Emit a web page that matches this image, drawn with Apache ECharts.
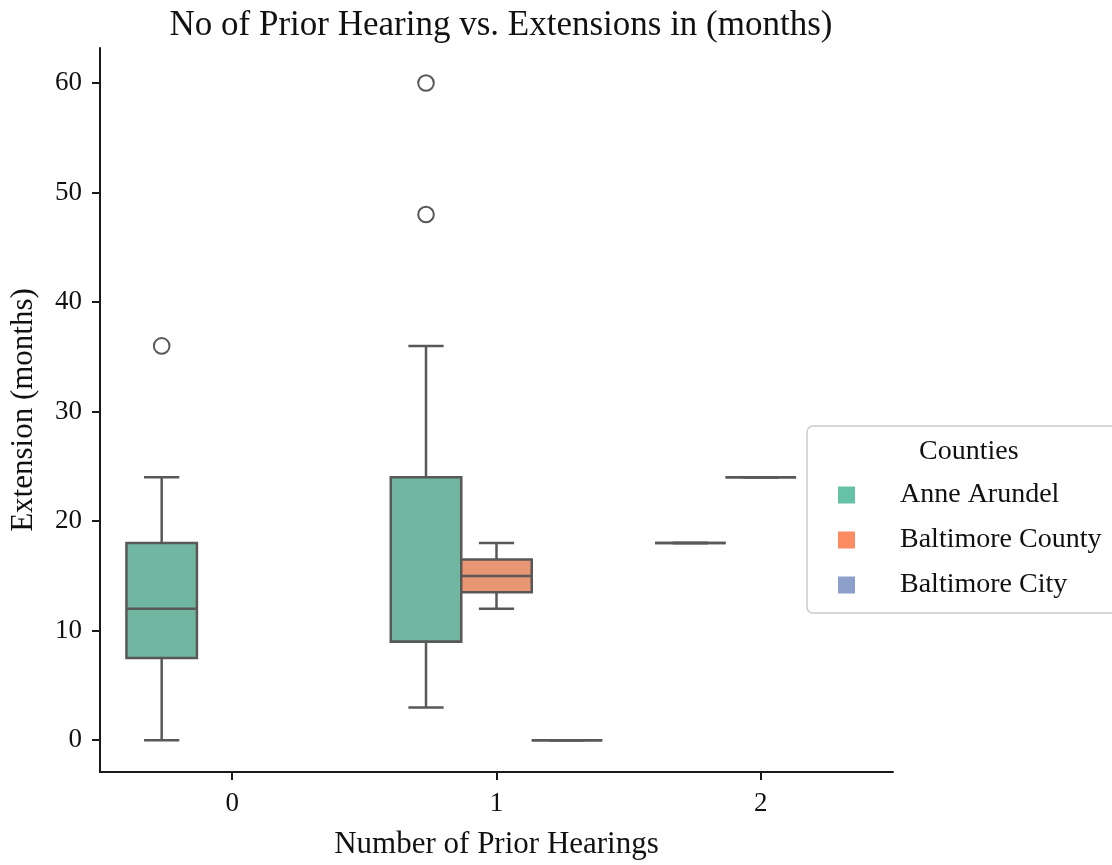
<!DOCTYPE html>
<html><head><meta charset="utf-8">
<script src="https://cdn.jsdelivr.net/npm/echarts@6/dist/echarts.min.js"></script>
<style>html,body{margin:0;padding:0;background:#fff}#c{width:1112px;height:865px}</style>
</head><body><div id="c"></div>
<script>
const categories = ['0', '1', '2'];
const counties = ['Anne Arundel', 'Baltimore County', 'Baltimore City'];
const yTicks = [0, 10, 20, 30, 40, 50, 60];
// [category index, lower whisker, Q1, median, Q3, upper whisker]
const anneArundel = [[0, 0, 7.5, 12, 18, 24], [1, 3, 9, 9, 24, 36], [2, 18, 18, 18, 18, 18]];
const baltimoreCounty = [[1, 12, 13.5, 15, 16.5, 18], [2, 24, 24, 24, 24, 24]];
const baltimoreCity = [[1, 0, 0, 0, 0, 0]];
// [category index, value]
const anneArundelOutliers = [[0, 36], [1, 48], [1, 60]];

const FONT = "'Liberation Serif', 'DejaVu Serif', serif";
const PALETTE = ['#66c2a5', '#fc8d62', '#8da0cb'];
const FILLS = ['#71b6a1', '#e99675', '#95a3c3'];
const LINE = '#585858';
const LW = 2.5;
const DODGE = 0.8 / 3;

function boxRenderer(slot) {
  return function (params, api) {
    const cat = api.value(0);
    const band = api.size([1, 0])[0];
    const w = band * DODGE;
    const cx = api.coord([cat, 0])[0] + (slot - 1) * w;
    const py = v => api.coord([cat, v])[1];
    const lo = py(api.value(1)), q1 = py(api.value(2)), md = py(api.value(3)), q3 = py(api.value(4)), hi = py(api.value(5));
    const ls = { stroke: LINE, lineWidth: LW, fill: null };
    return {
      type: 'group',
      children: [
        { type: 'line', shape: { x1: cx, y1: q3, x2: cx, y2: hi }, style: ls },
        { type: 'line', shape: { x1: cx, y1: q1, x2: cx, y2: lo }, style: ls },
        { type: 'line', shape: { x1: cx - w / 4, y1: hi, x2: cx + w / 4, y2: hi }, style: ls },
        { type: 'line', shape: { x1: cx - w / 4, y1: lo, x2: cx + w / 4, y2: lo }, style: ls },
        { type: 'rect', shape: { x: cx - w / 2, y: q3, width: w, height: q1 - q3 }, style: { fill: FILLS[slot], stroke: LINE, lineWidth: LW } },
        { type: 'line', shape: { x1: cx - w / 2, y1: md, x2: cx + w / 2, y2: md }, style: ls }
      ]
    };
  };
}
function outlierRenderer(slot) {
  return function (params, api) {
    const cat = api.value(0);
    const band = api.size([1, 0])[0];
    const w = band * DODGE;
    const p = api.coord([cat, api.value(1)]);
    return { type: 'circle', shape: { cx: p[0] + (slot - 1) * w, cy: p[1], r: 7.8 }, style: { fill: 'rgba(0,0,0,0)', stroke: LINE, lineWidth: 2 } };
  };
}

const chart = echarts.init(document.getElementById('c'), null, { renderer: 'canvas' });
chart.setOption({
  animation: false,
  backgroundColor: '#ffffff',
  title: [
    { text: 'No of Prior Hearing vs. Extensions in (months)', left: 496, textAlign: 'center', top: 3,
      textStyle: { fontFamily: FONT, fontSize: 35, fontWeight: 'normal', color: '#111' } },
    { text: 'Counties', left: 914, top: 433, z: 10,
      textStyle: { fontFamily: FONT, fontSize: 28, fontWeight: 'normal', color: '#111' } }
  ],
  legend: {
    orient: 'vertical', left: 807, top: 426,
    padding: [54, 60, 13, 31],
    backgroundColor: '#fff', borderColor: '#cccccc', borderWidth: 1.5, borderRadius: 6,
    itemWidth: 17, itemHeight: 17, itemGap: 15,
    textStyle: { fontFamily: FONT, fontSize: 28, lineHeight: 30, color: '#111', padding: [0, 0, 0, 40] },
    data: counties.map((n, i) => ({ name: n, icon: 'rect', itemStyle: { color: PALETTE[i], borderWidth: 0 } }))
  },
  grid: { left: 99, right: 219, top: 48, bottom: 92 },
  xAxis: {
    type: 'category', data: categories, boundaryGap: true,
    axisLine: { onZero: false, lineStyle: { color: '#1a1a1a', width: 2 } },
    axisTick: { show: true, alignWithLabel: true, length: 8, lineStyle: { color: '#1a1a1a', width: 2 } },
    axisLabel: { fontFamily: FONT, fontSize: 27, color: '#111', margin: 18 },
    name: 'Number of Prior Hearings', nameLocation: 'middle', nameGap: 57,
    nameTextStyle: { fontFamily: FONT, fontSize: 31, color: '#111' }
  },
  yAxis: {
    type: 'value', min: -2.9, max: 63.2,
    axisLine: { show: true, lineStyle: { color: '#1a1a1a', width: 2 } },
    axisTick: { show: true, length: 8, customValues: yTicks, lineStyle: { color: '#1a1a1a', width: 2 } },
    axisLabel: { fontFamily: FONT, fontSize: 27, color: '#111', margin: 18, customValues: yTicks },
    splitLine: { show: false },
    name: 'Extension (months)', nameLocation: 'middle', nameGap: 61, nameRotate: 90,
    nameTextStyle: { fontFamily: FONT, fontSize: 31, color: '#111' }
  },
  series: [
    { type: 'custom', name: counties[0], data: anneArundel, renderItem: boxRenderer(0), encode: { x: 0, y: [1, 2, 3, 4, 5] }, itemStyle: { color: PALETTE[0] } },
    { type: 'custom', name: counties[1], data: baltimoreCounty, renderItem: boxRenderer(1), encode: { x: 0, y: [1, 2, 3, 4, 5] }, itemStyle: { color: PALETTE[1] } },
    { type: 'custom', name: counties[2], data: baltimoreCity, renderItem: boxRenderer(2), encode: { x: 0, y: [1, 2, 3, 4, 5] }, itemStyle: { color: PALETTE[2] } },
    { type: 'custom', name: counties[0], data: anneArundelOutliers, renderItem: outlierRenderer(0), encode: { x: 0, y: 1 }, itemStyle: { color: PALETTE[0] } }
  ]
});
</script></body></html>
